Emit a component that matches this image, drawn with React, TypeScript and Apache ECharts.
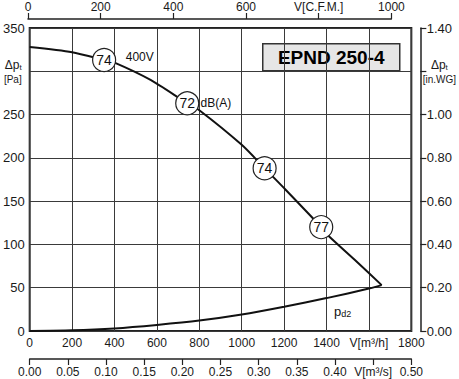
import React, { useEffect, useRef } from 'react';
import * as echarts from 'echarts';

// Fan characteristic curve (flow m³/h, total pressure Pa)
const fanFlow = [0, 200, 351, 400, 570, 743, 800, 1000, 1108, 1200, 1375, 1400, 1534, 1660];
const fanPressure = [328, 322, 313, 310, 290, 263, 255, 215, 188, 165, 120, 112, 82, 53];

// Dynamic pressure pd2 curve
const pd2Flow = [0, 200, 400, 600, 800, 1000, 1200, 1400, 1600, 1660];
const pd2Pressure = [0, 0.8, 3, 7, 12, 19, 28, 38, 49, 53];

// Noise level markers dB(A)
const noiseFlow = [351, 743, 1108, 1375];
const noisePressure = [313, 263, 188, 120];
const noiseLabels = ['74', '72', '74', '77'];

// Annotations
const noteFlow = [453, 806, 1435];
const notePressure = [316, 263, 24];
const noteTexts = ['400V', 'dB(A)', '{p|p}{s|d2}'];

const title = 'EPND 250-4';

const FONT = '"Liberation Sans", Arial, sans-serif';
const TXT = '#1a1a1a';

export default function App() {
  const ref = useRef<HTMLDivElement>(null);
  useEffect(() => {
    if (!ref.current) return;
    const chart = echarts.init(ref.current, undefined, { renderer: 'svg' });
    const fanData = fanFlow.map((f, i) => [f, fanPressure[i]]);
    const pd2Data = pd2Flow.map((f, i) => [f, pd2Pressure[i]]);
    const noiseData = noiseFlow.map((f, i) => [f, noisePressure[i], noiseLabels[i]]);
    const noteData = noteFlow.map((f, i) => [f, notePressure[i], noteTexts[i]]);

    const near = (a: number, b: number) => Math.abs(a - b) < 1e-6;

    chart.setOption({
      animation: false,
      backgroundColor: '#ffffff',
      textStyle: { fontFamily: FONT, color: TXT },
      grid: [
        { left: 28, top: 28, width: 385, height: 303, show: true, borderColor: '#222', borderWidth: 2, backgroundColor: 'transparent' },
        { left: 28, top: 19, width: 363.4, height: 1 },
      ],
      xAxis: [
        {
          gridIndex: 0, type: 'value', min: 0, max: 1800, interval: 200, position: 'bottom',
          axisLine: { show: false }, axisTick: { show: false },
          splitLine: { show: true, lineStyle: { color: '#3a3a3a', width: 1 } },
          axisLabel: {
            margin: 6, fontSize: 12, color: TXT, fontFamily: FONT, hideOverlap: false,
            showMinLabel: true, showMaxLabel: true,
            formatter: (v: number) => (v === 1600 ? 'V[m³/h]' : String(v)),
          },
        },
        {
          gridIndex: 0, type: 'value', min: 0, max: 0.5, interval: 0.05, position: 'bottom', offset: 28,
          axisLine: { show: true, onZero: false, lineStyle: { color: '#222', width: 1.5 } },
          axisTick: { show: true, length: 6, lineStyle: { color: '#222', width: 1.2 } },
          splitLine: { show: false },
          axisLabel: {
            margin: 7, fontSize: 12, color: TXT, fontFamily: FONT, hideOverlap: false,
            showMinLabel: true, showMaxLabel: true,
            formatter: (v: number) => (near(v, 0.45) ? 'V[m³/s]' : v.toFixed(2)),
          },
        },
        {
          gridIndex: 1, type: 'value', min: 0, max: 1000, interval: 200, position: 'top',
          axisLine: { show: true, onZero: false, lineStyle: { color: '#222', width: 1.5 } },
          axisTick: { show: true, length: 6, lineStyle: { color: '#222', width: 1.2 } },
          splitLine: { show: false },
          axisLabel: {
            margin: 6, fontSize: 12, color: TXT, fontFamily: FONT, hideOverlap: false,
            showMinLabel: true, showMaxLabel: true,
            formatter: (v: number) => (v === 800 ? 'V[C.F.M.]' : String(v)),
          },
        },
      ],
      yAxis: [
        {
          gridIndex: 0, type: 'value', min: 0, max: 350, interval: 50, position: 'left',
          axisLine: { show: false }, axisTick: { show: false },
          splitLine: { show: true, lineStyle: { color: '#3a3a3a', width: 1 } },
          axisLabel: {
            margin: 5, fontSize: 13, color: TXT, fontFamily: FONT, hideOverlap: false,
            showMinLabel: true, showMaxLabel: true,
            formatter: (v: number) => (v === 300 ? '{a|Δp}{s|t}\n{b|[Pa]}' : String(v)),
            rich: {
              a: { fontSize: 12, lineHeight: 17, verticalAlign: 'bottom', color: TXT, fontFamily: FONT },
              s: { fontSize: 8, lineHeight: 8, verticalAlign: 'bottom', color: TXT, fontFamily: FONT, padding: [0, 3, 0, 0] },
              b: { fontSize: 10, lineHeight: 17, color: TXT, fontFamily: FONT, padding: [0, 3, 0, 0] },
            },
          },
        },
        {
          gridIndex: 0, type: 'value', min: 0, max: 1.4, interval: 0.2, position: 'right', offset: 9,
          axisLine: { show: true, onZero: false, lineStyle: { color: '#222', width: 1.5 } },
          axisTick: { show: true, length: 6, lineStyle: { color: '#222', width: 1.2 } },
          splitLine: { show: false },
          axisLabel: {
            margin: 19, align: 'center', fontSize: 13, color: TXT, fontFamily: FONT, hideOverlap: false,
            showMinLabel: true, showMaxLabel: true,
            formatter: (v: number) => (near(v, 1.2) ? '{a|Δp}{s|t}\n{b|[in.WG]}' : v.toFixed(2)),
            rich: {
              a: { fontSize: 12, lineHeight: 17, verticalAlign: 'bottom', color: TXT, fontFamily: FONT },
              s: { fontSize: 8, lineHeight: 8, verticalAlign: 'bottom', color: TXT, fontFamily: FONT },
              b: { fontSize: 10, lineHeight: 17, color: TXT, fontFamily: FONT },
            },
          },
        },
        { gridIndex: 1, type: 'value', show: false, min: 0, max: 1 },
      ],
      graphic: [
        {
          type: 'group', left: 262, top: 43, z: 100,
          children: [
            { type: 'rect', shape: { x: 0, y: 0, width: 137, height: 27 }, style: { fill: '#e6e6e6', stroke: '#333', lineWidth: 1.5 } },
            {
              type: 'text', x: 68.5, y: 14,
              style: { text: title, fill: '#000', font: `bold 19px ${FONT}`, align: 'center', verticalAlign: 'middle' },
            },
          ],
        },
      ],
      series: [
        {
          type: 'line', xAxisIndex: 0, yAxisIndex: 0, data: fanData, smooth: 0.25, symbol: 'none',
          lineStyle: { color: '#111', width: 2 }, z: 3,
        },
        {
          type: 'line', xAxisIndex: 0, yAxisIndex: 0, data: pd2Data, smooth: 0.25, symbol: 'none',
          lineStyle: { color: '#111', width: 2 }, z: 3,
        },
        {
          type: 'scatter', xAxisIndex: 0, yAxisIndex: 0, data: noiseData, symbol: 'circle', symbolSize: 23,
          itemStyle: { color: '#fff', borderColor: '#222', borderWidth: 1.2, opacity: 1 }, z: 5,
          label: {
            show: true, position: 'inside', fontSize: 14, color: '#111', fontFamily: FONT,
            formatter: (p: any) => p.data[2],
          },
        },
        {
          type: 'scatter', xAxisIndex: 0, yAxisIndex: 0, data: noteData, symbol: 'circle', symbolSize: 0,
          itemStyle: { color: '#000', opacity: 1 }, z: 6,
          label: {
            show: true, position: 'right', distance: 0, fontSize: 12, color: '#111', fontFamily: FONT,
            formatter: (p: any) => p.data[2],
            rich: {
              p: { fontSize: 13, lineHeight: 16, verticalAlign: 'bottom', color: '#111', fontFamily: FONT },
              s: { fontSize: 9, lineHeight: 9, verticalAlign: 'bottom', color: '#111', fontFamily: FONT },
            },
          },
        },
      ],
    });
    return () => chart.dispose();
  }, []);
  return <div ref={ref} style={{ position: 'fixed', left: 0, top: 0, width: 459, height: 379 }} />;
}
